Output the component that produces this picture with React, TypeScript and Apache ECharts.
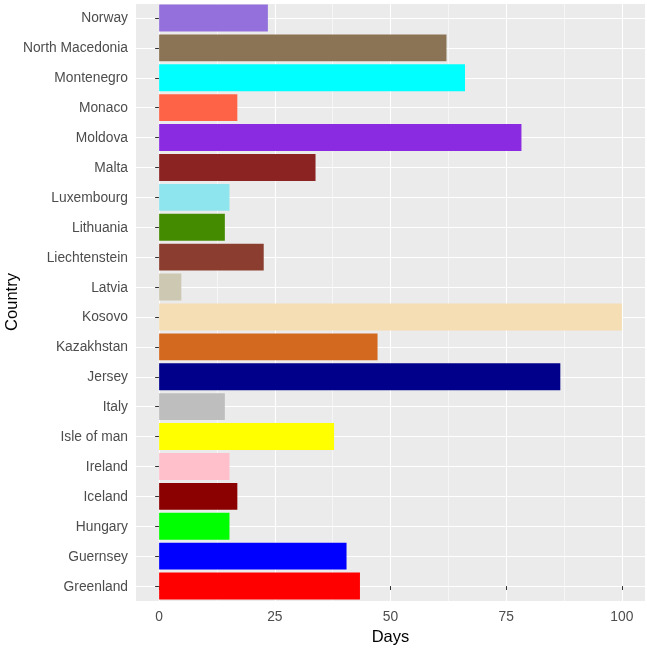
import React, { useEffect, useRef } from "react";
import * as echarts from "echarts";

// Bottom-to-top order (first = bottom of the chart)
const countries = [
  "Greenland", "Guernsey", "Hungary", "Iceland", "Ireland", "Isle of man", "Italy",
  "Jersey", "Kazakhstan", "Kosovo", "Latvia", "Liechtenstein", "Lithuania",
  "Luxembourg", "Malta", "Moldova", "Monaco", "Montenegro", "North Macedonia", "Norway",
];
const days = [
  43.4, 40.5, 15.2, 16.9, 15.2, 37.8, 14.2,
  86.7, 47.2, 100, 4.8, 22.6, 14.2,
  15.2, 33.8, 78.3, 16.9, 66.1, 62.1, 23.5,
];
const barColors = [
  "#FF0000", "#0000FF", "#00FF00", "#8B0000", "#FFC0CB", "#FFFF00", "#BEBEBE",
  "#00008B", "#D2691E", "#F5DEB3", "#CDC8B1", "#8B3E2F", "#458B00",
  "#8EE5EE", "#8B2323", "#8A2BE2", "#FF6347", "#00FFFF", "#8B7355", "#9370DB",
];
const xTicks = [0, 25, 50, 75, 100];
const xMinor = [12.5, 37.5, 62.5, 87.5];

const FONT = "Liberation Sans, Arial, sans-serif";

export default function App() {
  const ref = useRef<HTMLDivElement>(null);
  useEffect(() => {
    const chart = echarts.init(ref.current!, null, { renderer: "svg" });
    chart.setOption({
      animation: false,
      grid: {
        left: 136, right: 2, top: 3, bottom: 47,
        outerBoundsMode: "none",
        containLabel: false,
        show: true, backgroundColor: "#EBEBEB", borderWidth: 0,
      },
      xAxis: [
        {
          type: "value", min: -5, max: 105, minInterval: 25, maxInterval: 25,
          name: "Days", nameLocation: "middle", nameGap: 26, nameMoveOverlap: false,
          nameTextStyle: { color: "#000", fontSize: 16.5, fontFamily: FONT },
          axisLine: { show: false },
          axisTick: { show: true, length: 4, lineStyle: { color: "#333", width: 1 }, customValues: xTicks },
          axisLabel: { color: "#4D4D4D", fontSize: 13.8, fontFamily: FONT, margin: 8, customValues: xTicks },
          splitLine: { show: true, lineStyle: { color: "#FFFFFF", width: 1.1 } },
          z: 1,
        },
        {
          type: "value", min: -5, max: 105, minInterval: 12.5, maxInterval: 12.5,
          position: "bottom",
          axisLine: { show: false },
          axisTick: { show: false, customValues: xMinor },
          axisLabel: { show: false },
          splitLine: { show: true, lineStyle: { color: "#FFFFFF", width: 0.55 } },
          z: 0,
        },
      ],
      yAxis: [
        {
          type: "category", data: countries,
          name: "Country", nameLocation: "middle", nameGap: 117, nameMoveOverlap: false,
          nameTextStyle: { color: "#000", fontSize: 16.5, fontFamily: FONT },
          axisLine: { show: false },
          axisTick: { show: true, length: 4, alignWithLabel: true, lineStyle: { color: "#333", width: 1 } },
          axisLabel: { color: "#4D4D4D", fontSize: 13.8, fontFamily: FONT, margin: 8 },
          splitLine: { show: false },
        },
        {
          type: "value", min: -0.5, max: 19.5, minInterval: 1, maxInterval: 1,
          position: "left",
          axisLine: { show: false },
          axisTick: { show: false },
          axisLabel: { show: false },
          splitLine: { show: true, lineStyle: { color: "#FFFFFF", width: 1.1 } },
        },
      ],
      series: [
        {
          type: "bar",
          xAxisIndex: 0,
          yAxisIndex: 0,
          barWidth: "90%",
          data: days.map((v, i) => ({ value: v, itemStyle: { color: barColors[i] } })),
          z: 3,
        },
      ],
    });
    return () => chart.dispose();
  }, []);
  return (
    <div
      ref={ref}
      style={{ position: "fixed", left: 0, top: 0, width: 647, height: 648 }}
    />
  );
}
